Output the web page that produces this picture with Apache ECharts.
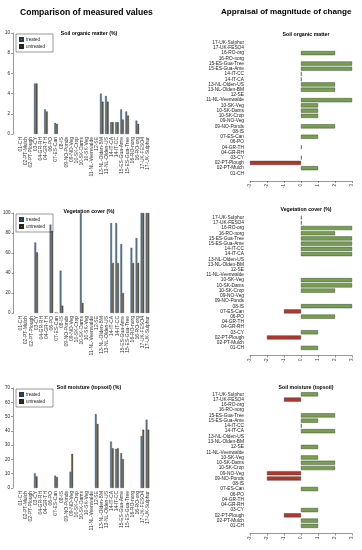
<!DOCTYPE html>
<html><head><meta charset="utf-8">
<script src="https://cdn.jsdelivr.net/npm/echarts@6/dist/echarts.min.js"></script>
<style>html,body{margin:0;padding:0;background:#fff}#c{width:362px;height:550px}</style>
</head><body><div id="c"></div>
<script>
const categories = ['01-CH','02-PT-Mulch','02-PT-Plough','03-CY','04-GR-RH','04-GR-TH','06-PO','07-ES-Can','08-IS','09-NO-Ponds','09-NO-Veg','10-SK-Crop','10-SK-Dams','10-SK-Veg','11-NL-Veenwalde','12-SE','13-NL-Olden-BM','13-NL-Olden-US','14-IT-CA','14-IT-CC','15-ES-Gua-Ame','15-ES-Gua-Tree','16-RO-norg','16-RO-org','17-UK-FESO4','17-UK-Sulphur'];
const _ = null;
// Comparison of measured values
const somTreated   = [_,_,_,5.0,_,2.43,_,1.1,_,_,_,_,_,_,_,_,4.0,3.77,1.17,1.17,2.43,2.23,_,1.33,_,_];
const somUntreated = [_,_,_,5.0,_,2.23,_,1.0,_,_,_,_,_,_,_,_,3.2,3.2,1.17,1.17,1.43,1.83,_,1.0,_,_];
const vegTreated   = [_,_,_,70.5,_,_,88.4,0.5,42.4,_,_,_,100,_,_,_,_,_,90,90,68.9,_,65.2,75,100,100];
const vegUntreated = [_,_,_,60.6,_,_,81.8,0.2,7.3,_,_,_,10,_,_,_,_,_,50,50,19.9,_,50,50,100,100];
const moiTreated   = [_,_,_,10.2,_,_,_,8.6,_,_,11.4,_,_,_,_,51.7,_,_,32.5,27.4,24.4,_,_,_,36.4,47.8];
const moiUntreated = [_,_,_,8.1,_,_,_,7.7,_,_,23.9,_,_,_,_,44.8,_,_,27.8,27.8,20.2,_,_,_,40.8,40.8];
// Appraisal of magnitude of change
const somChange = [_,1,-3,0,_,0,_,1,_,2,_,1,1,1,3,_,2,2,0,0,3,3,_,2,_,_];
const vegChange = [1,_,-2,1,_,_,2,-1,3,_,_,2,3,3,_,_,_,_,3,3,3,3,2,3,0,0];
const moiChange = [1,1,-1,1,_,_,_,1,_,-2,-2,2,2,1,_,1,_,_,2,0,1,2,_,_,-1,1];
const changeTicks = [-3,-2,-1,0,1,2,3];

const FONT = 'Liberation Sans';
const cTreated = '#56799a', cUntreated = '#6b5b3d', cPos = '#76a04e', cNeg = '#b0382a';

const leftPanels = [
  {title:'Soil organic matter (%)', t:somTreated, u:somUntreated, top:33, h:101, max:10, iv:2, titleTop:26},
  {title:'Vegetation cover (%)', t:vegTreated, u:vegUntreated, top:213, h:100, max:100, iv:20, titleTop:204},
  {title:'Soil moisture (topsoil) (%)', t:moiTreated, u:moiUntreated, top:388, h:100, max:70, iv:10, titleTop:380}
];
const rightPanels = [
  {title:'Soil organic matter', d:somChange, top:40, h:136, titleTop:27},
  {title:'Vegetation cover (%)', d:vegChange, top:215, h:135.5, titleTop:202},
  {title:'Soil moisture (topsoil)', d:moiChange, top:391.7, h:136.8, titleTop:380}
];

const grid=[], xAxis=[], yAxis=[], series=[], legend=[];
const title=[
  {text:'Comparison of measured values', left:15, top:3, textStyle:{fontFamily:FONT,fontSize:8.6,fontWeight:'bold',color:'#000'}},
  {text:'Appraisal of magnitude of change', left:216, top:3, textStyle:{fontFamily:FONT,fontSize:8.1,fontWeight:'bold',color:'#000'}}
];
leftPanels.forEach((p,i)=>{
  grid.push({left:18, width:132, top:p.top, height:p.h});
  xAxis.push({type:'category', gridIndex:i, data:categories, axisLine:{show:false}, axisTick:{show:false},
    axisLabel:{rotate:90, interval:0, fontSize:5, fontFamily:FONT, color:'#333', margin:3}});
  yAxis.push({type:'value', gridIndex:i, min:0, max:p.max, interval:p.iv, offset:5, splitLine:{show:false},
    axisLine:{show:true, lineStyle:{color:'#333', width:0.5}}, axisTick:{show:true, length:2, lineStyle:{color:'#333',width:0.5}},
    axisLabel:{fontSize:4.5, fontFamily:FONT, color:'#222', margin:3}});
  title.push({text:p.title, left:84, textAlign:'center', top:p.titleTop, textStyle:{fontFamily:FONT,fontSize:5.2,fontWeight:'bold',color:'#000'}});
  series.push({type:'bar', name:'treated', xAxisIndex:i, yAxisIndex:i, data:p.t, barWidth:1.8, barGap:'0%',
    itemStyle:{color:cTreated, borderColor:'#2a3a48', borderWidth:0.3}});
  series.push({type:'bar', name:'untreated', xAxisIndex:i, yAxisIndex:i, data:p.u, barWidth:1.8, barGap:'0%',
    itemStyle:{color:cUntreated, borderColor:'#2a2418', borderWidth:0.3}});
  legend.push({left:16, top:p.top+1, orient:'vertical', data:['treated','untreated'], itemWidth:3, itemHeight:3, itemGap:2,
    icon:'rect', borderColor:'#333', borderWidth:0.5, padding:[3,8,3,3],
    textStyle:{fontSize:4.5, fontFamily:FONT, color:'#222', padding:[0,0,0,-2]}, selectedMode:false});
});
rightPanels.forEach((p,j)=>{
  const i=j+3;
  grid.push({left:250, width:102, top:p.top, height:p.h});
  xAxis.push({type:'value', gridIndex:i, min:-3, max:3, interval:1, offset:5, splitLine:{show:false},
    axisLine:{show:true, onZero:false, lineStyle:{color:'#333', width:0.5}}, axisTick:{show:true, length:2, lineStyle:{color:'#333',width:0.5}},
    axisLabel:{rotate:90, fontSize:4.5, fontFamily:FONT, color:'#333', margin:3}});
  yAxis.push({type:'category', gridIndex:i, data:categories, axisLine:{show:false}, axisTick:{show:false},
    axisLabel:{interval:0, fontSize:4.8, fontFamily:FONT, color:'#222', margin:6}});
  title.push({text:p.title, left:301, textAlign:'center', top:p.titleTop, textStyle:{fontFamily:FONT,fontSize:5.2,fontWeight:'bold',color:'#000'}});
  series.push({type:'bar', xAxisIndex:i, yAxisIndex:i, data:p.d, barWidth:'78%', barMinHeight:0.6,
    itemStyle:{color:(params)=>params.value<0?cNeg:cPos, borderColor:'#2b2b2b', borderWidth:0.4}});
});
const chart = echarts.init(document.getElementById('c'), null, {renderer:'canvas'});
chart.setOption({animation:false, backgroundColor:'#fff', title, legend, grid, xAxis, yAxis, series});
</script></body></html>
